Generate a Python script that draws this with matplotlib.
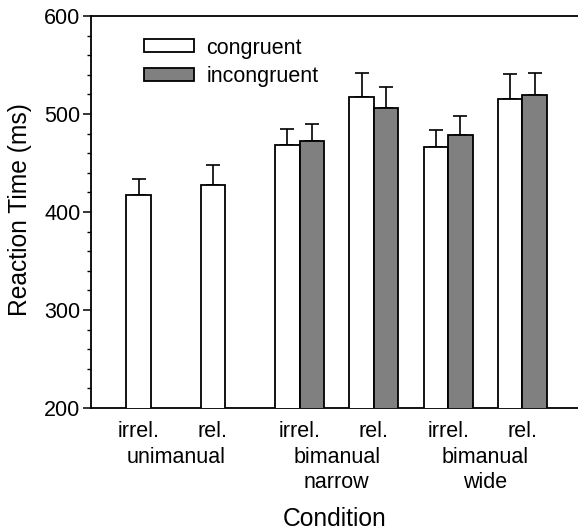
import matplotlib

matplotlib.use("Agg")
import matplotlib.pyplot as plt
import numpy as np
from matplotlib.transforms import blended_transform_factory

plt.rcParams["font.family"] = ["Liberation Sans", "DejaVu Sans"]

# slots: unimanual irrel/rel, narrow irrel/rel, wide irrel/rel
slot_labels = ["irrel.", "rel.", "irrel.", "rel.", "irrel.", "rel."]
groups = ["unimanual", "bimanual\nnarrow", "bimanual\nwide"]
congruent = [417, 428, 468, 517, 466, 515]
congruent_err = [17, 20, 17, 25, 18, 26]
incongruent = [np.nan, np.nan, 472, 506, 479, 519]
incongruent_err = [np.nan, np.nan, 18, 22, 19, 23]

W = 0.331
x = np.arange(len(slot_labels))
has_incong = ~np.isnan(incongruent)

fig = plt.figure(figsize=(5.78, 5.31), dpi=100)
ax = fig.add_axes([0.1574, 0.2316, 0.8426, 0.7383])

ax.bar(x - W / 2, congruent, W, color="white", edgecolor="black",
       linewidth=1.3, label="congruent", zorder=3)
ax.bar(x[has_incong] + W / 2, np.array(incongruent)[has_incong], W,
       color="#808080", edgecolor="black", linewidth=1.3, label="incongruent", zorder=3)

zeros = np.zeros(len(x))
ax.errorbar(x - W / 2, congruent, yerr=[zeros, congruent_err], fmt="none",
            ecolor="black", elinewidth=1.2, capsize=4.7, capthick=1.2, zorder=2)
ax.errorbar(x[has_incong] + W / 2, np.array(incongruent)[has_incong],
            yerr=[zeros[has_incong], np.array(incongruent_err)[has_incong]], fmt="none",
            ecolor="black", elinewidth=1.2, capsize=4.7, capthick=1.2, zorder=2)

ax.set_ylim(200, 600)
ax.set_xlim(-0.807, 5.747)
ax.set_yticks([200, 300, 400, 500, 600])
ax.set_yticks(np.arange(200, 601, 20), minor=True)
ax.tick_params(axis="y", which="major", length=5.5, width=1.1, pad=2, labelsize=15.5)
ax.tick_params(axis="y", which="minor", length=3, width=1.0)

# unimanual labels sit under the single bar, bimanual under the pair
tick_pos = [p - W / 2 if not h else p for p, h in zip(x, has_incong)]
ax.set_xticks(tick_pos)
ax.set_xticklabels(slot_labels)
ax.tick_params(axis="x", length=0, pad=9, labelsize=15.5)

trans = blended_transform_factory(ax.transData, ax.transAxes)
for i, g in enumerate(groups):
    cx = (tick_pos[2 * i] + tick_pos[2 * i + 1]) / 2
    ax.annotate(g, xy=(cx, 0), xycoords=trans, xytext=(0, -28),
                textcoords="offset points", ha="center", va="top",
                fontsize=15.5, linespacing=1.25)

ax.set_ylabel("Reaction Time (ms)", fontsize=17.7)
ax.yaxis.set_label_coords(-0.121, 0.505)
ax.set_xlabel("Condition", fontsize=17.7)
ax.xaxis.set_label_coords(0.5, -0.252)

for s in ["left", "bottom", "top"]:
    ax.spines[s].set_linewidth(1.3)
ax.spines["right"].set_visible(False)

ax.legend(loc="upper left", bbox_to_anchor=(0.109, 0.945), frameon=False,
          fontsize=15.5, handlelength=2.3, handleheight=0.55, handletextpad=0.6,
          labelspacing=0.36, borderpad=0, borderaxespad=0)

fig.savefig("out.png", dpi=100)
